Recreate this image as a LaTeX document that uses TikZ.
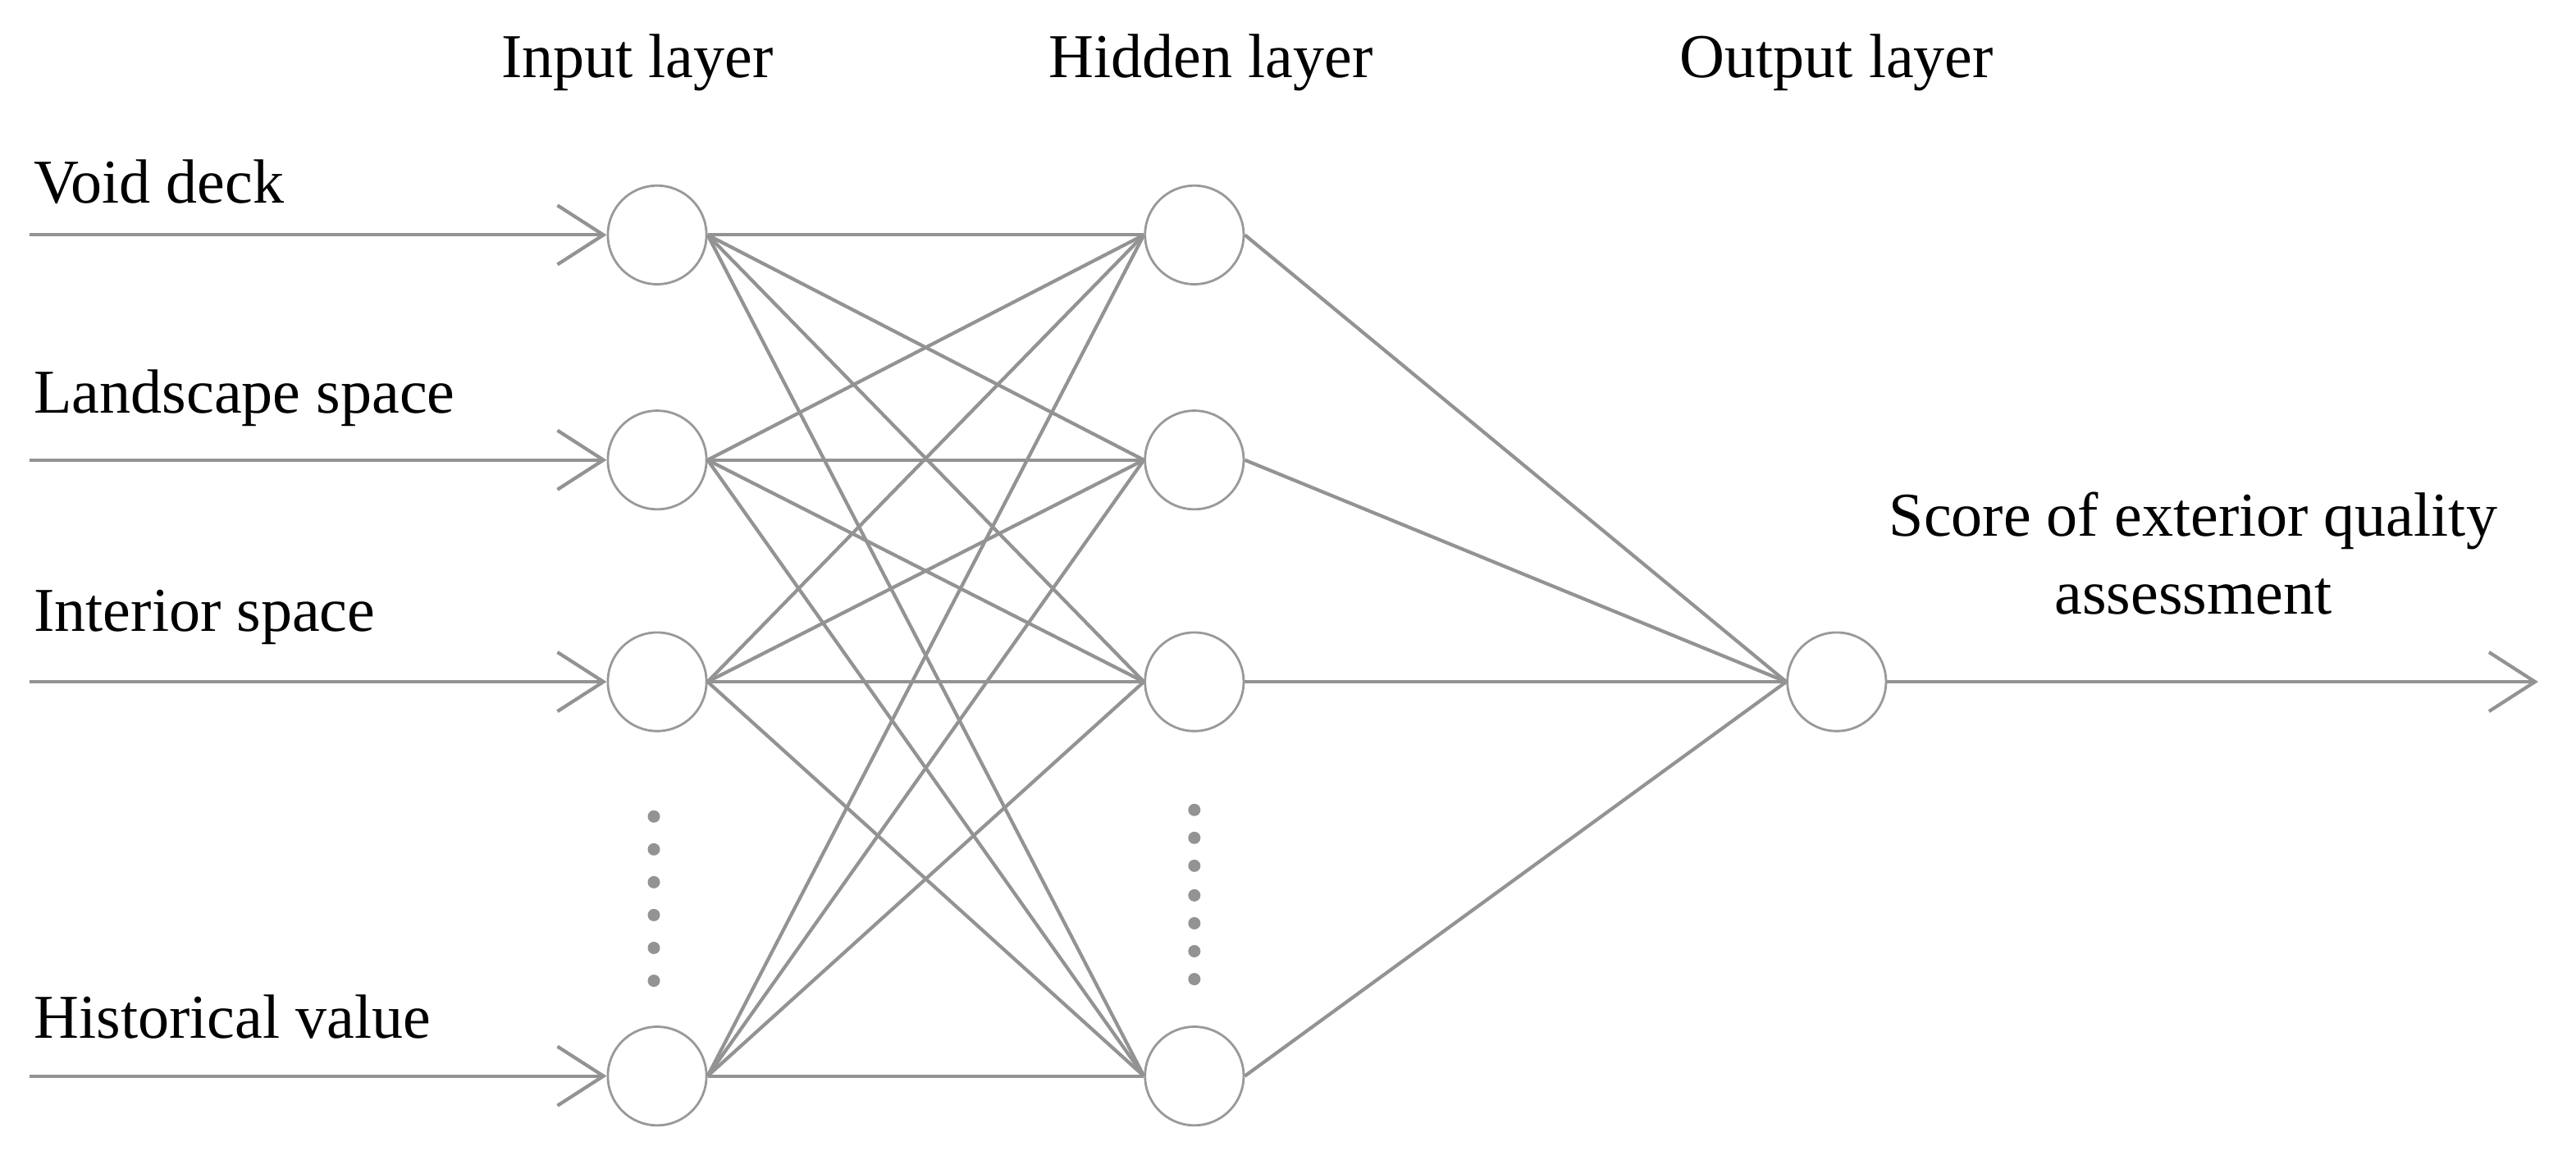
\documentclass[tikz,border=0pt]{standalone}
\usepackage{fontspec}
\setmainfont{Liberation Serif}
\usetikzlibrary{positioning,arrows.meta}

\begin{document}
\begin{tikzpicture}[
    x=0.01cm,y=-0.01cm,
    font=\fontsize{10.8}{13.5}\selectfont,
    neuron/.style={circle,minimum size=0.6cm,inner sep=0pt,draw=gray!80,line width=0.4pt},
    link/.style={draw=gray!85,line width=0.6pt},
    feed/.style={link,-{Straight Barb[length=0.28cm,width=0.36cm,line width=0.6pt]}},
    dot/.style={circle,fill=gray!85,inner sep=0pt,minimum size=0.075cm}]
    \useasboundingbox (0,0) rectangle (1568,706);

    % layers
    \node[neuron] (I1) at (400,143) {};
    \node[neuron] (I2) at (400,280) {};
    \node[neuron] (I3) at (400,415) {};
    \node[neuron] (I4) at (400,655) {};
    \node[neuron] (H1) at (727,143) {};
    \node[neuron] (H2) at (727,280) {};
    \node[neuron] (H3) at (727,415) {};
    \node[neuron] (H4) at (727,655) {};
    \node[neuron] (O) at (1118,415) {};

    % titles
    \node (tI) at (388,38) {Input layer};
    \node (tH) at (737,38) {Hidden layer};
    \node (tO) at (1118,38) {Output layer};

    % inputs
    \coordinate (s1) at (18,143);
    \coordinate (s2) at (18,280);
    \coordinate (s3) at (18,415);
    \coordinate (s4) at (18,655);
    \node[anchor=south west,inner sep=0pt] (l1) at (20,125) {Void deck};
    \node[anchor=south west,inner sep=0pt] (l2) at (20,260) {Landscape space};
    \node[anchor=south west,inner sep=0pt] (l3) at (20,393) {Interior space};
    \node[anchor=south west,inner sep=0pt] (l4) at (20,633) {Historical value};
    \foreach \i in {1,...,4}
        \draw[feed] (s\i) -- (I\i);

    % connections
    \foreach \i in {1,...,4}
        \foreach \j in {1,...,4}
            \draw[link] (I\i.east) -- (H\j.west);
    \foreach \j in {1,...,4}
        \draw[link] (H\j.east) -- (O.west);

    % output
    \coordinate (t) at (1545,415);
    \draw[feed] (O) -- (t);
    \node[align=center,inner sep=0pt] (lo) at (1335,337) {Score of exterior quality\\assessment};

    % ellipsis dots
    \foreach \y in {497,517,537,557,577,597}
        \node[dot] at (398,\y) {};
    \foreach \y in {493,510,527,545,562,579,596}
        \node[dot] at (727,\y) {};
\end{tikzpicture}
\end{document}
